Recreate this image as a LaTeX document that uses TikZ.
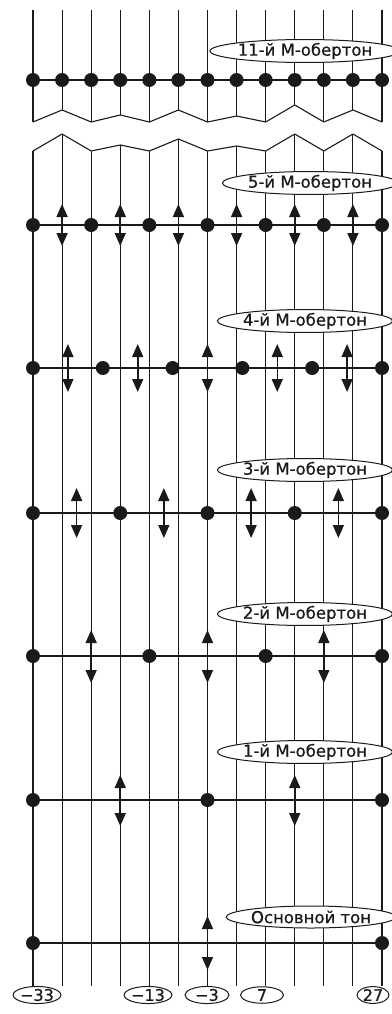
\documentclass[tikz,border=0pt]{standalone}
\usepackage{fontspec}
\setmainfont{DejaVu Sans}
\newfontfamily\labfont[FakeBold=0.6]{DejaVu Sans}
\usetikzlibrary{arrows.meta,shapes.geometric}
\definecolor{ink}{HTML}{1A1A1A}
\begin{document}
\begin{tikzpicture}[x=1pt,y=-1pt,
  vline/.style={line width=1.1pt, draw=ink, line join=round},
  hline/.style={line width=2.4pt, draw=ink},
  dot/.style={circle, fill=ink, inner sep=0pt, minimum size=14pt},
  osc/.style={line width=1.6pt, draw=ink, {Triangle[length=13pt,width=11pt]}-{Triangle[length=13pt,width=11pt]}},
  mlabel/.style={ellipse, draw=ink, line width=1pt, fill=white, inner sep=0pt, minimum height=22pt, text=ink, font=\labfont\fontsize{16.5}{16.5}\selectfont},
  numlabel/.style={ellipse, draw=ink, line width=1pt, fill=white, inner sep=0pt, minimum height=16pt, text=ink, font=\labfont\fontsize{16}{16}\selectfont},
]
\useasboundingbox[fill=white] (0,0) rectangle (391,1014);
% vertical strings
\foreach \i/\u/\l in {0/122/151,1/110/134,2/122/151,3/115/145,4/122/151,5/110/139,6/122/151,7/116/146,8/122/151,9/105/134,10/122/151,11/110/134,12/122/151}{
  \pgfmathsetmacro\xx{33+29.0833*\i}
  \draw[vline] (\xx,10) -- (\xx,\u);
  \draw[vline] (\xx,\l) -- (\xx,986);
}
% zigzag breaks
\draw[vline] (33,122) -- (62.08,110) -- (91.17,122) -- (120.25,115) -- (149.33,122) -- (178.42,110) -- (207.5,122) -- (236.58,116) -- (265.67,122) -- (294.75,105) -- (323.83,122) -- (352.92,110) -- (382,122);
\draw[vline] (33,151) -- (62.08,134) -- (91.17,151) -- (120.25,145) -- (149.33,151) -- (178.42,139) -- (207.5,151) -- (236.58,146) -- (265.67,151) -- (294.75,134) -- (323.83,151) -- (352.92,134) -- (382,151);

% 11th overtone
\foreach \i in {0,...,12}{\node[dot] (k\i) at ({33+29.0833*\i},80) {};}
\draw[hline] (k0) -- (k12);
\node[mlabel, minimum width=154pt] (lk) at (305,51) {11-й М-обертон};

% 5th overtone
\foreach \i in {0,...,6}{\node[dot] (e\i) at ({33+58.1667*\i},225) {};}
\draw[hline] (e0) -- (e6);
\foreach \i in {1,3,5,7,9,11}{\draw[osc] ({33+29.0833*\i},204) -- ({33+29.0833*\i},246);}
\node[mlabel, minimum width=146pt] (le) at (310,183) {5-й М-обертон};

% 4th overtone
\foreach \i in {0,...,5}{\node[dot] (d\i) at ({33+69.8*\i},368) {};}
\draw[hline] (d0) -- (d5);
\foreach \i in {0,...,4}{\draw[osc] ({67.9+69.8*\i},344) -- ({67.9+69.8*\i},392);}
\node[mlabel, minimum width=142pt] (ld) at (305,321) {4-й М-обертон};

% 3rd overtone
\foreach \i in {0,...,4}{\node[dot] (c\i) at ({33+87.25*\i},513) {};}
\draw[hline] (c0) -- (c4);
\foreach \i in {0,...,3}{\draw[osc] ({76.6+87.25*\i},488) -- ({76.6+87.25*\i},538);}
\node[mlabel, minimum width=142pt] (lc) at (305,470) {3-й М-обертон};

% 2nd overtone
\foreach \i in {0,...,3}{\node[dot] (b\i) at ({33+116.333*\i},656) {};}
\draw[hline] (b0) -- (b3);
\foreach \i in {0,...,2}{\draw[osc] ({91.17+116.333*\i},630) -- ({91.17+116.333*\i},683);}
\node[mlabel, minimum width=142pt] (lb) at (305,614) {2-й М-обертон};

% 1st overtone
\foreach \i in {0,...,2}{\node[dot] (a\i) at ({33+174.5*\i},800) {};}
\draw[hline] (a0) -- (a2);
\foreach \i in {0,1}{\draw[osc] ({120.25+174.5*\i},775) -- ({120.25+174.5*\i},826);}
\node[mlabel, minimum width=142pt] (la) at (305,752) {1-й М-обертон};

% fundamental
\node[dot] (f0) at (33,943) {};
\node[dot] (f1) at (382,943) {};
\draw[hline] (f0) -- (f1);
\draw[osc] (207.5,916) -- (207.5,970);
\node[mlabel, minimum width=145pt] (lf) at (311,917) {Основной тон};

% bottom numbers
\node[numlabel, minimum width=42pt] (n1) at (37,995) {−33};
\node[numlabel, minimum width=42pt] (n2) at (148,995) {−13};
\node[numlabel, minimum width=44pt] (n3) at (207,995) {−3};
\node[numlabel, minimum width=43pt] (n4) at (262,995) {7};
\node[numlabel, minimum width=32pt] (n5) at (373,995) {27};
\end{tikzpicture}
\end{document}
